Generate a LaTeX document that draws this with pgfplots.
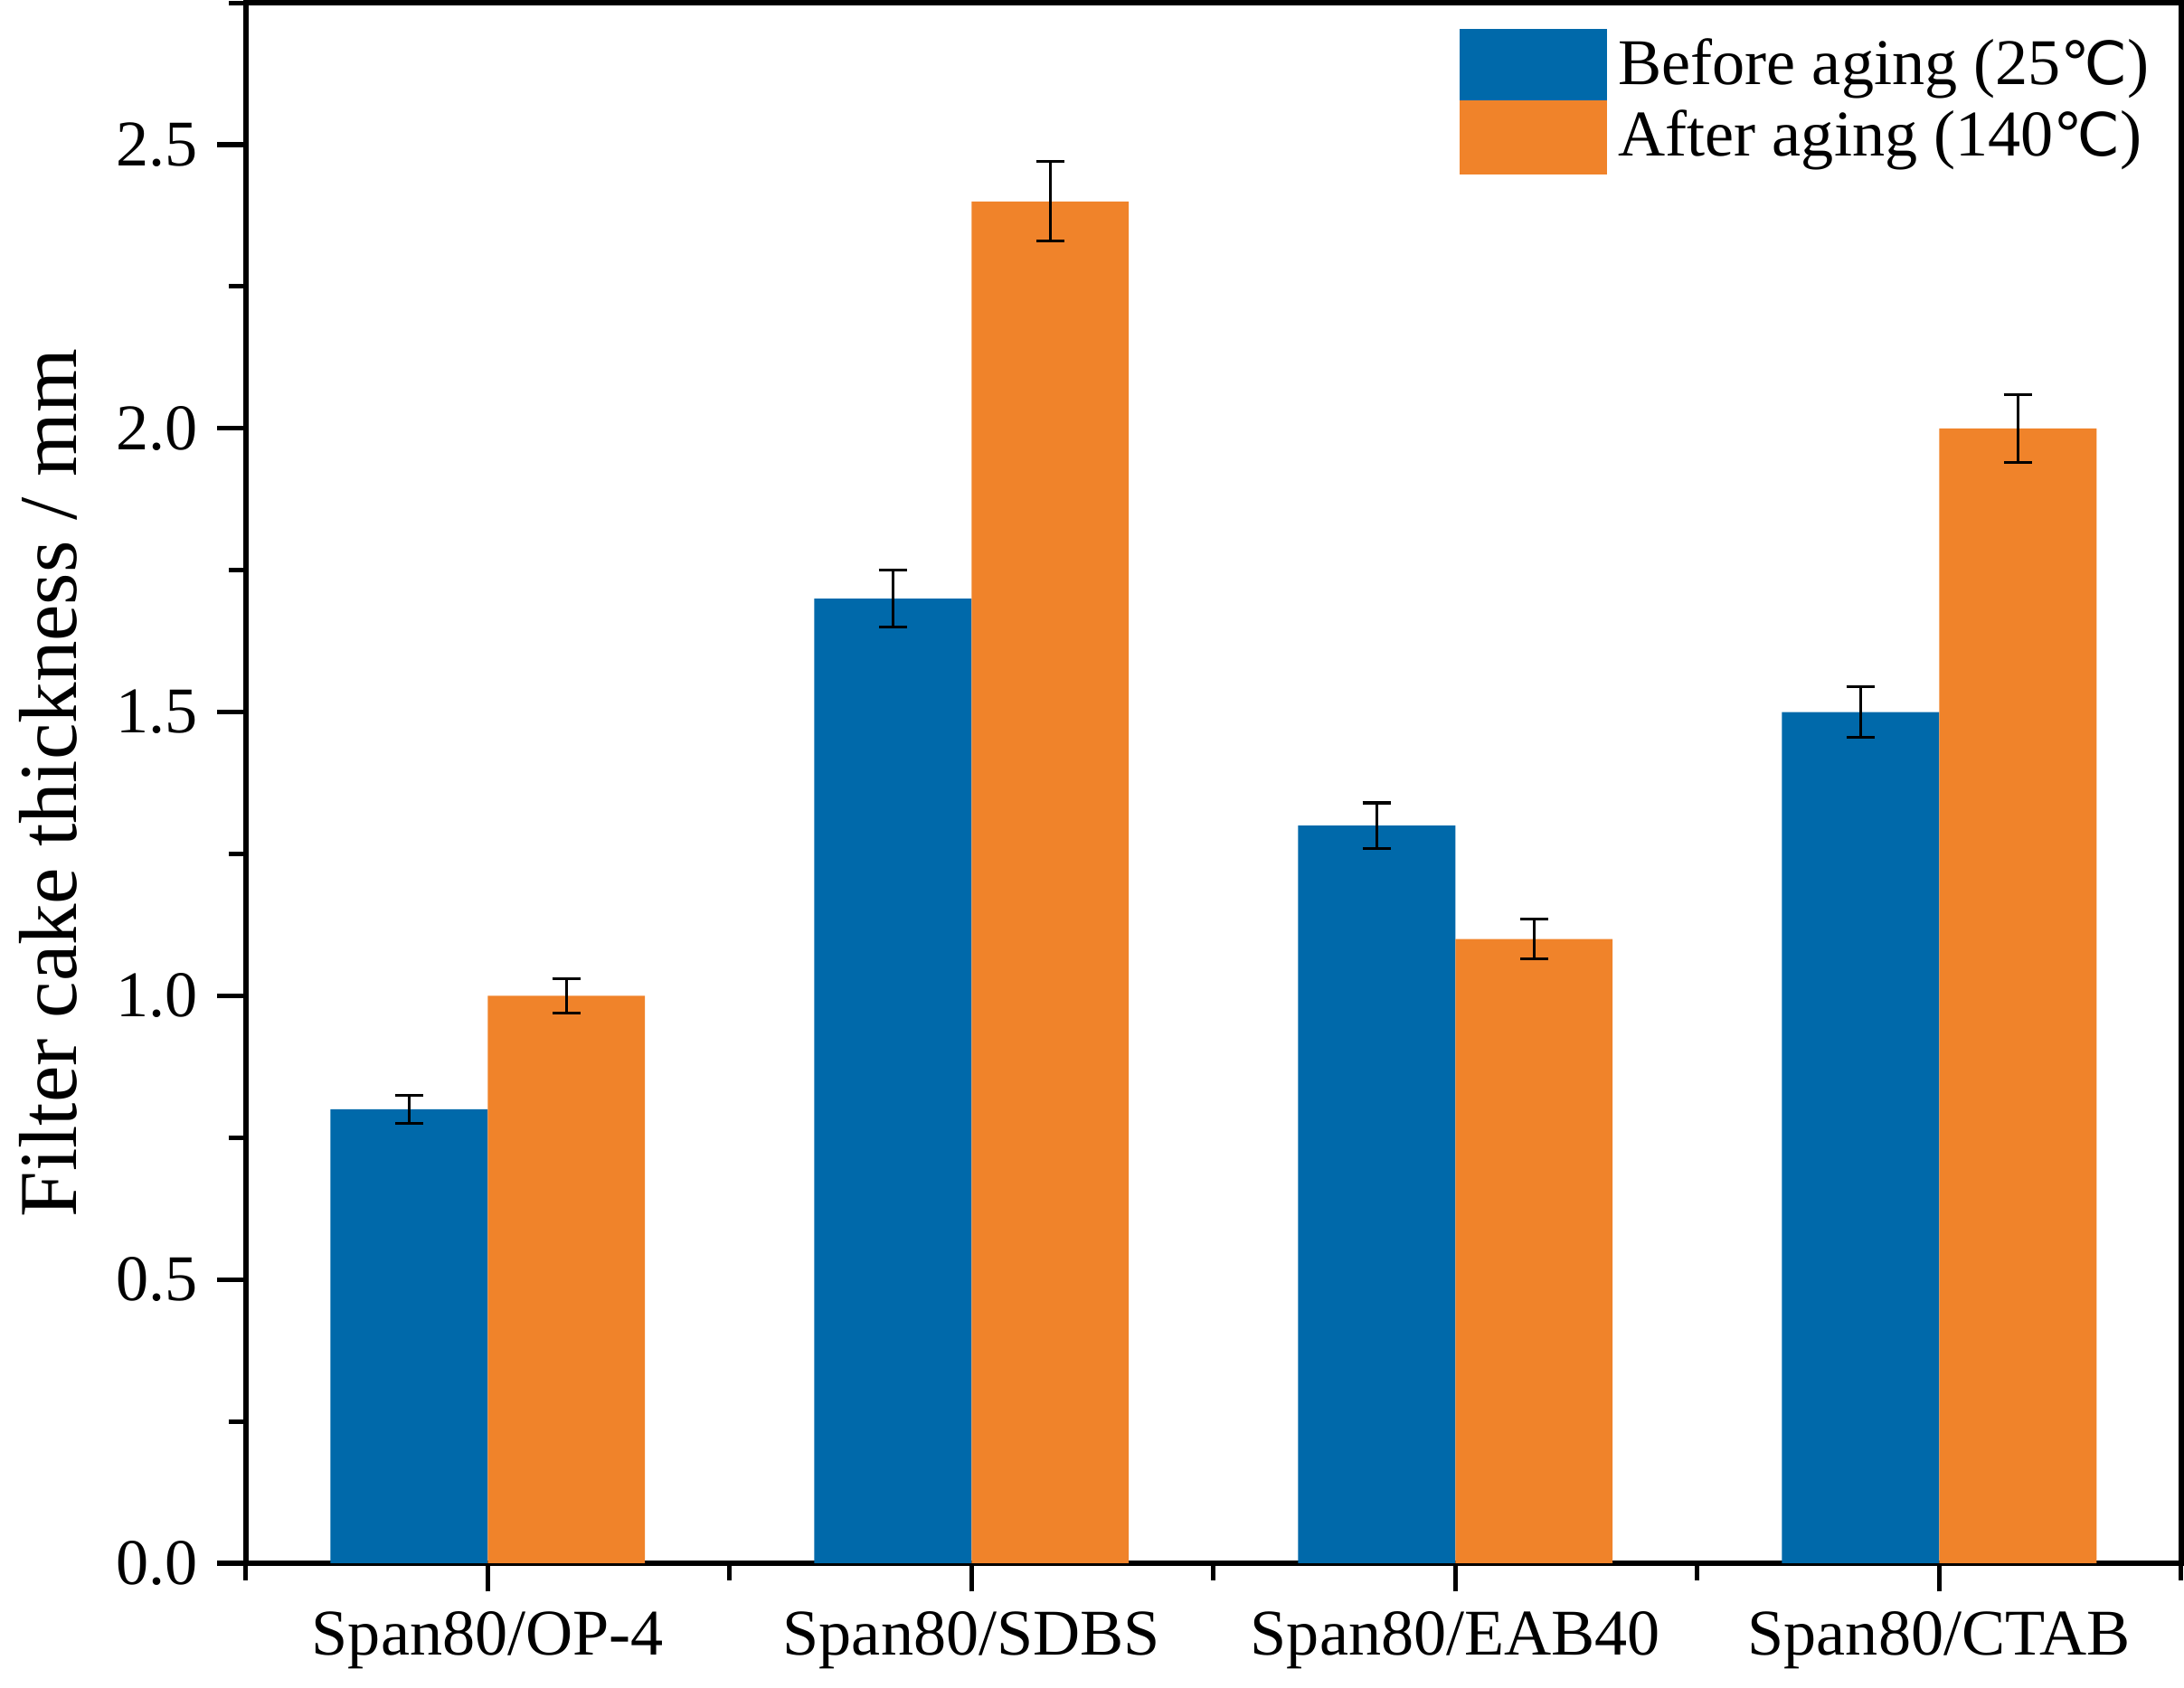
\documentclass[border=0pt]{standalone}
\usepackage{pgfplots}
\pgfplotsset{compat=1.18}
\usepackage{fontspec}
\setmainfont{Liberation Serif}
\newfontfamily\dvs{DejaVu Sans}
\newcommand{\degC}{{\dvs\fontsize{10.5}{13}\selectfont ℃}}
\definecolor{cb}{HTML}{0069AA}
\definecolor{co}{HTML}{F0832A}
\begin{document}
\begin{tikzpicture}
\begin{axis}[
  width=341pt, height=275pt, scale only axis,
  ymin=0, ymax=2.75, xmin=-0.5, xmax=3.5,
  axis line style={line width=1pt},
  xtick={0,1,2,3},
  xticklabels={Span80/OP-4,Span80/SDBS,Span80/EAB40,Span80/CTAB},
  minor xtick={-0.5,0.5,1.5,2.5,3.5},
  ytick={0,0.5,...,2.5},
  minor ytick={0.25,0.75,...,2.75},
  yticklabel style={/pgf/number format/.cd,fixed,fixed zerofill,precision=1},
  /pgf/number format/assume math mode=true,
  tick style={line width=0.8pt,black},
  major tick length=5pt, minor tick length=3pt,
  tick align=outside, xtick pos=bottom, ytick pos=left,
  ticklabel style={font=\fontsize{11.5}{13}\selectfont},
  ylabel={Filter cake thickness / mm},
  ylabel style={font=\fontsize{14.5}{17}\selectfont},
  legend style={at={(0.99,0.985)},anchor=north east,draw=none,fill=none,
    font=\fontsize{11.5}{13}\selectfont,row sep=-1pt,inner sep=0pt},
  legend cell align=left,
  legend image code/.code={\fill[#1] (0pt,-6.5pt) rectangle (26pt,6.5pt);},
  error bars/error bar style={black,line width=0.5pt},
  error bars/error mark options={rotate=90,mark size=2.5pt,black,line width=0.5pt},
]
\addplot[ybar, bar width=0.325, bar shift=-0.1625, fill=cb, draw=none]
  coordinates {(0,0.8) (1,1.7) (2,1.3) (3,1.5)};
\addlegendentry{Before aging (25\degC)}
\addplot[ybar, bar width=0.325, bar shift=0.1625, fill=co, draw=none]
  coordinates {(0,1.0) (1,2.4) (2,1.1) (3,2.0)};
\addlegendentry{After aging (140\degC)}
\addplot[draw=none, mark=none, forget plot,
  error bars/.cd, y dir=both, y explicit]
  coordinates {(-0.1625,0.8) +- (0,0.025) (0.8375,1.7) +- (0,0.05) (1.8375,1.3) +- (0,0.04) (2.8375,1.5) +- (0,0.045)};
\addplot[draw=none, mark=none, forget plot,
  error bars/.cd, y dir=both, y explicit]
  coordinates {(0.1625,1.0) +- (0,0.03) (1.1625,2.4) +- (0,0.07) (2.1625,1.1) +- (0,0.035) (3.1625,2.0) +- (0,0.06)};
\end{axis}
\end{tikzpicture}
\end{document}
